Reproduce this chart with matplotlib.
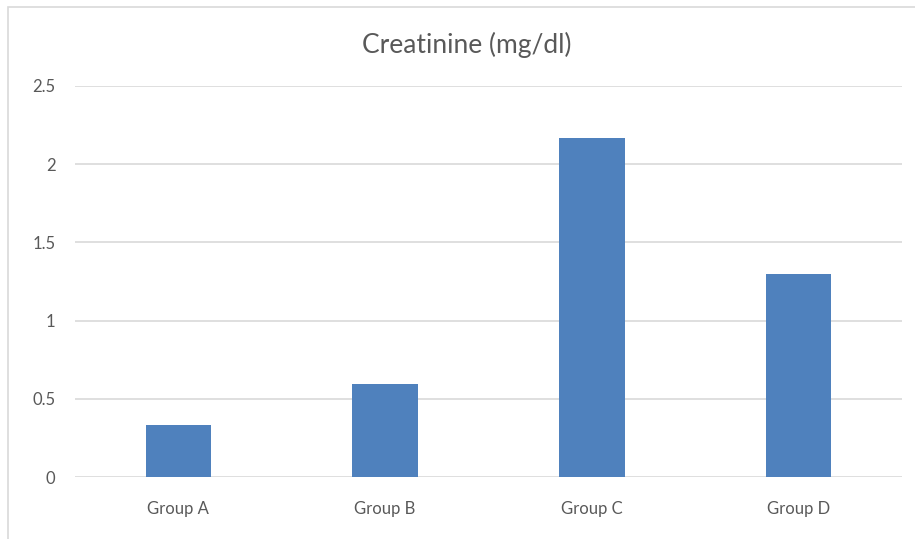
import matplotlib.pyplot as plt
from matplotlib.patches import Rectangle

groups = ["Group A", "Group B", "Group C", "Group D"]
creatinine = [0.33, 0.595, 2.167, 1.298]
yticks = [0, 0.5, 1, 1.5, 2, 2.5]
ytick_labels = ["0", "0.5", "1", "1.5", "2", "2.5"]

plt.rcParams["font.family"] = ["Lato", "DejaVu Sans"]
text_color = "#595959"
grid_color = "#D9D9D9"

W, H = 915, 539
fig = plt.figure(figsize=(W / 100, H / 100), dpi=100)

# outer chart frame (runs past the right and bottom edges)
fig.patches.append(Rectangle((8 / W, -0.1), 1.2, 1 - 7 / H + 0.1,
                             transform=fig.transFigure, fill=False,
                             edgecolor=grid_color, linewidth=1.2))

ax = fig.add_axes([75 / W, (H - 477) / H, (902 - 75) / W, (477 - 86) / H])
ax.bar(range(len(groups)), creatinine, width=0.317, color="#4F81BD", zorder=3)

ax.set_xlim(-0.5, len(groups) - 0.5)
ax.set_ylim(0, 2.5)
ax.set_yticks(yticks)
ax.set_yticklabels(ytick_labels)
ax.set_xticks(range(len(groups)))
ax.set_xticklabels(groups)
ax.tick_params(axis="both", length=0, labelsize=12, colors=text_color)
ax.tick_params(axis="y", pad=14)
ax.tick_params(axis="x", pad=17)

ax.grid(axis="y", color=grid_color, linewidth=1.2, zorder=0)
for s in ax.spines.values():
    s.set_visible(False)

fig.text(467 / W, 1 - 45 / H, "Creatinine (mg/dl)", ha="center",
         va="center", fontsize=19, color=text_color)

fig.savefig("out.png", dpi=100)
